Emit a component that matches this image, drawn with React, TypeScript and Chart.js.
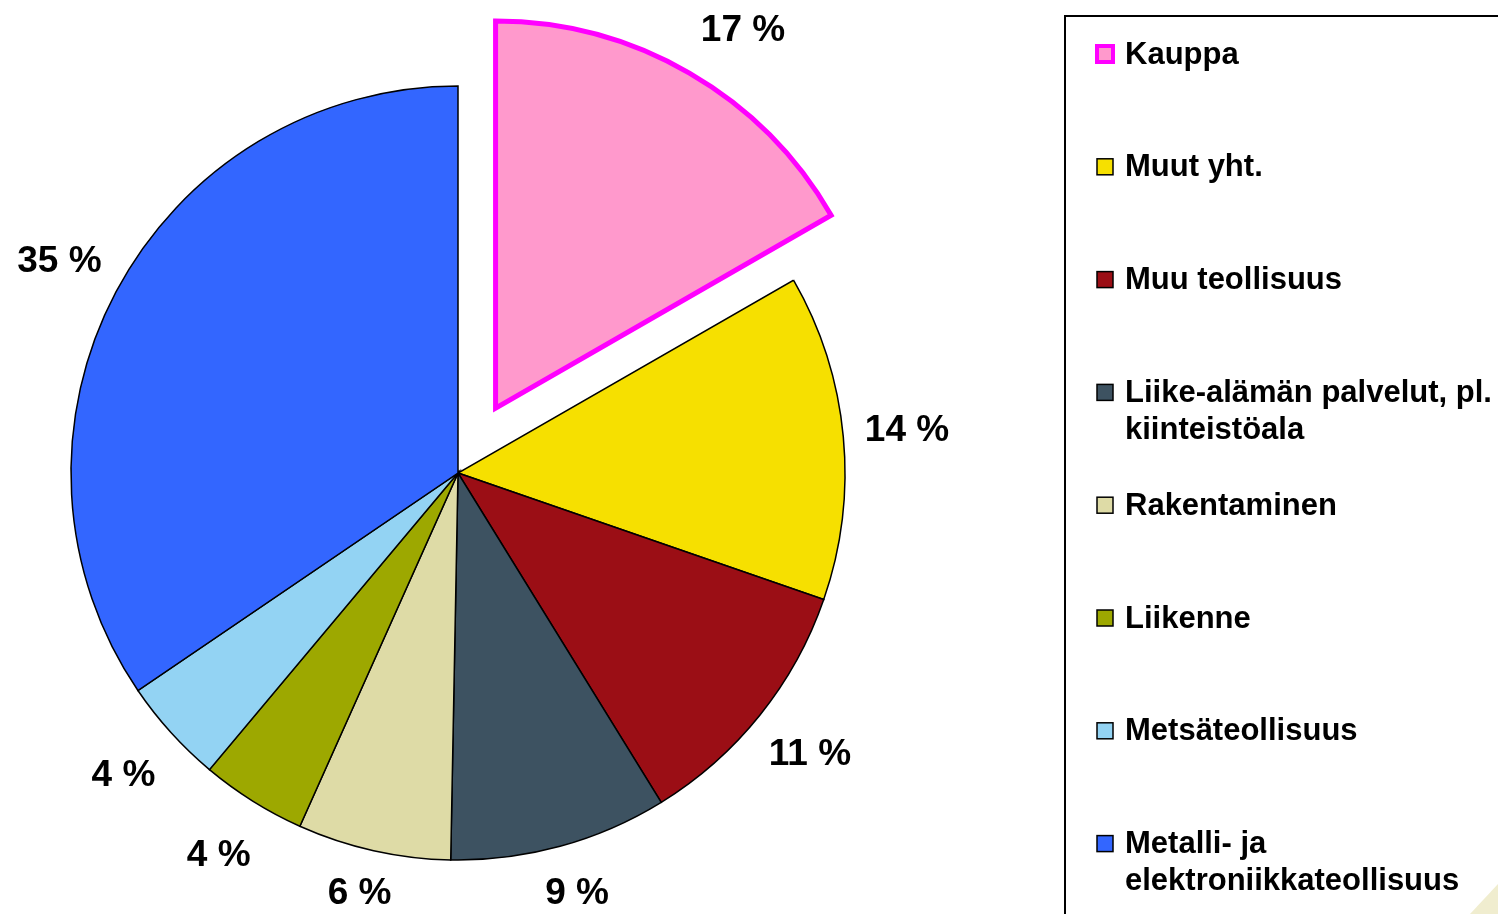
import React, { useEffect, useRef } from "react";
import { Chart, registerables } from "chart.js";

Chart.register(...registerables);

const categories = [
  "Kauppa",
  "Muut yht.",
  "Muu teollisuus",
  "Liike-alämän palvelut, pl. kiinteistöala",
  "Rakentaminen",
  "Liikenne",
  "Metsäteollisuus",
  "Metalli- ja elektroniikkateollisuus",
];
const shares = [16.7, 13.6, 10.9, 9.1, 6.4, 4.4, 4.4, 34.5];
const fillColors = ["#FF99CC", "#F6E000", "#9B0E15", "#3D5261", "#DEDBA6", "#9DA800", "#93D3F3", "#3366FF"];
const edgeColors = ["#FF00FF", "#000000", "#000000", "#000000", "#000000", "#000000", "#000000", "#000000"];
const edgeWidths = [5, 1.5, 1.5, 1.5, 1.5, 1.5, 1.5, 1.5];
const explode = [75, 0, 0, 0, 0, 0, 0, 0];

const FONT = "'Liberation Sans', Arial, sans-serif";

const decorPlugin = {
  id: "decor",
  beforeDraw(chart: any) {
    const ctx = chart.ctx;
    const W = chart.width;
    const H = chart.height;
    ctx.save();
    ctx.fillStyle = "#F0EDCF";
    ctx.beginPath();
    ctx.moveTo(W - 28, H);
    ctx.lineTo(W, H - 30);
    ctx.lineTo(W, H);
    ctx.closePath();
    ctx.fill();
    ctx.restore();
  },
};

// Pull exploded slices out along their mid-angle without changing their radius
const explodePlugin = {
  id: "explodeSlices",
  beforeDatasetsDraw(chart: any) {
    const meta = chart.getDatasetMeta(0);
    meta.data.forEach((arc: any, i: number) => {
      const d = explode[i] || 0;
      if (!d || arc.__exploded) return;
      const orig = arc.draw.bind(arc);
      arc.draw = (ctx: CanvasRenderingContext2D) => {
        const mid = (arc.startAngle + arc.endAngle) / 2;
        ctx.save();
        ctx.translate(Math.cos(mid) * d, Math.sin(mid) * d);
        orig(ctx);
        ctx.restore();
      };
      arc.__exploded = true;
    });
  },
};

const labelPlugin = {
  id: "pctLabels",
  afterDatasetsDraw(chart: any) {
    const ctx = chart.ctx;
    const meta = chart.getDatasetMeta(0);
    const data = chart.data.datasets[0].data as number[];
    const yMin = 31;
    const yMax = 894;
    ctx.save();
    ctx.fillStyle = "#000";
    ctx.font = `bold 37px ${FONT}`;
    ctx.textAlign = "center";
    ctx.textBaseline = "middle";
    meta.data.forEach((arc: any, i: number) => {
      const p = arc.getProps(["x", "y", "startAngle", "endAngle", "outerRadius"], true);
      const mid = (p.startAngle + p.endAngle) / 2;
      const off = explode[i] || 0;
      const cx = p.x + Math.cos(mid) * off;
      const cy = p.y + Math.sin(mid) * off;
      const r = p.outerRadius + 64;
      let lx = cx + Math.cos(mid) * r;
      let ly = cy + Math.sin(mid) * r;
      if (ly < yMin) {
        const dy = cy - yMin;
        const dx = Math.sqrt(Math.max(r * r - dy * dy, 0));
        lx = cx + Math.sign(Math.cos(mid)) * dx;
        ly = yMin;
      } else if (ly > yMax) {
        ly = yMax;
      }
      ctx.fillText(`${Math.round(data[i])} %`, lx, ly);
    });
    ctx.restore();
  },
};

function wrapText(ctx: CanvasRenderingContext2D, text: string, maxW: number): string[] {
  const words = text.split(" ");
  const lines: string[] = [];
  let cur = "";
  for (const w of words) {
    const t = cur ? cur + " " + w : w;
    if (ctx.measureText(t).width > maxW && cur) {
      lines.push(cur);
      cur = w;
    } else cur = t;
  }
  if (cur) lines.push(cur);
  return lines;
}

const legendPlugin = {
  id: "boxLegend",
  afterDraw(chart: any) {
    const ctx = chart.ctx;
    const labels = chart.data.labels as string[];
    ctx.save();
    ctx.strokeStyle = "#000";
    ctx.lineWidth = 2;
    ctx.beginPath();
    ctx.moveTo(1065, chart.height + 2);
    ctx.lineTo(1065, 16);
    ctx.lineTo(chart.width + 2, 16);
    ctx.stroke();

    ctx.font = `bold 31px ${FONT}`;
    ctx.textAlign = "left";
    ctx.textBaseline = "middle";
    labels.forEach((lab, i) => {
      const y = 54 + i * 112.8;
      const s = 16;
      const mx = 1097;
      ctx.fillStyle = fillColors[i];
      ctx.fillRect(mx, y - s / 2, s, s);
      ctx.strokeStyle = edgeColors[i];
      ctx.lineWidth = i === 0 ? 4 : 1.5;
      ctx.strokeRect(mx, y - s / 2, s, s);
      ctx.fillStyle = "#000";
      const lines = wrapText(ctx, lab, 380);
      lines.forEach((ln, k) => ctx.fillText(ln, 1125, y + 1 + k * 37));
    });
    ctx.restore();
  },
};

export default function App() {
  const ref = useRef<HTMLCanvasElement | null>(null);
  useEffect(() => {
    if (!ref.current) return;
    const chart = new Chart(ref.current, {
      type: "pie",
      data: {
        labels: categories,
        datasets: [
          {
            data: shares,
            backgroundColor: fillColors,
            borderColor: edgeColors,
            borderWidth: edgeWidths,
            borderJoinStyle: "miter",
          } as any,
        ],
      },
      options: {
        responsive: false,
        animation: false,
        radius: 387,
        layout: { padding: { left: 0, right: 582, top: 32, bottom: 0 } },
        plugins: {
          legend: { display: false },
          tooltip: { enabled: false },
        },
        events: [],
      } as any,
      plugins: [decorPlugin, explodePlugin, labelPlugin, legendPlugin],
    });
    return () => chart.destroy();
  }, []);
  return (
    <div style={{ position: "absolute", left: 0, top: 0, width: 1498, height: 914, background: "#fff" }}>
      <canvas ref={ref} width={1498} height={914} style={{ display: "block" }} />
    </div>
  );
}
